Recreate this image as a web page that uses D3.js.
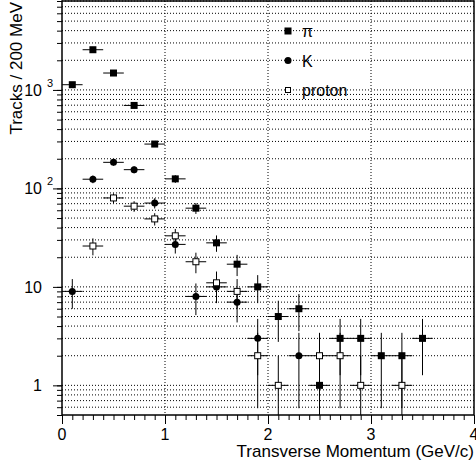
<!DOCTYPE html>
<html>
<head>
<meta charset="utf-8">
<script src="https://cdn.jsdelivr.net/npm/d3@7"></script>
<style>
  body { margin: 0; background: #fff; }
  text { font-family: "Liberation Sans", Arial, sans-serif; fill: #000; }
</style>
</head>
<body>
<div class="chart"></div>
<script>

// bin centres (200 MeV bins) and counts per species
var binCenters = [0.1, 0.3, 0.5, 0.7, 0.9, 1.1, 1.3, 1.5, 1.7, 1.9, 2.1, 2.3, 2.5, 2.7, 2.9, 3.1, 3.3, 3.5];
var piCounts     = [1130, 2560, 1485, 696, 282, 125, 63, 28, 17, 10, 5, 6, 1, 3, 3, 2, 2, 3];
var kCounts      = [9, 124, 184, 155, 71, 27, 8, 10, 7, 3, null, 2, null, null, null, null, null, null];
var protonCounts = [null, 26, 80, 66, 49, 33, 18, 11, 9, 2, 1, null, 2, 2, 1, null, 1, null];
var binHalfWidth = 0.1;

var xDomain = [0, 4];
var yDomain = [0.5, 8000];
var yMajor = [1, 10, 100, 1000];
var xMajor = [0, 1, 2, 3, 4];

var legendLabels = ['π', 'K', 'proton'];

/////////////////////////////////////////////////////////////

var W = 476, H = 463;
var margin = { top: 1, right: 2, bottom: 48, left: 62 };
var width = W - margin.left - margin.right;
var height = H - margin.top - margin.bottom;

var svg = d3.select('.chart')
  .append('svg')
  .attr('width', W)
  .attr('height', H)
  .append('g')
  .attr('transform', 'translate(' + margin.left + ',' + margin.top + ')');

var xScale = d3.scaleLinear().domain(xDomain).range([0, width]);
var yScale = d3.scaleLog().domain(yDomain).range([height, 0]);

// all log ticks inside the range
var yAll = [];
for (var e = -1; e <= 3; e++) {
  for (var k = 1; k <= 9; k++) {
    var v = k * Math.pow(10, e);
    if (v >= yDomain[0] && v <= yDomain[1]) yAll.push(+v.toPrecision(3));
  }
}
var xAll = d3.range(0, 41).map(d => +(d / 10).toFixed(1));

// grid
svg.append('g').selectAll('line.hgrid')
  .data(yAll.filter(d => d > yDomain[0]))
  .enter().append('line')
  .attr('x1', 0).attr('x2', width)
  .attr('y1', d => yScale(d)).attr('y2', d => yScale(d))
  .style('stroke', '#000')
  .style('stroke-width', 1)
  .style('stroke-dasharray', '1,2');

svg.append('g').selectAll('line.vgrid')
  .data([1, 2, 3])
  .enter().append('line')
  .attr('x1', d => xScale(d)).attr('x2', d => xScale(d))
  .attr('y1', 0).attr('y2', height)
  .style('stroke', '#000')
  .style('stroke-width', 1)
  .style('stroke-dasharray', '1,2');

// frame
svg.append('rect')
  .attr('x', 0).attr('y', 0)
  .attr('width', width).attr('height', height)
  .style('fill', 'none')
  .style('stroke', '#000')
  .style('stroke-width', 1.5);

// axes: minor and major ticks, outside
function styleAxis(g) {
  g.select('.domain').remove();
  g.selectAll('.tick line').style('stroke', '#000').style('stroke-width', 1);
}

svg.append('g')
  .attr('transform', 'translate(0,' + height + ')')
  .call(d3.axisBottom(xScale).tickValues(xAll).tickSize(5).tickFormat(''))
  .call(styleAxis);
svg.append('g')
  .attr('transform', 'translate(0,' + height + ')')
  .call(d3.axisBottom(xScale).tickValues(xMajor).tickSize(9).tickFormat(''))
  .call(styleAxis);

svg.append('g')
  .call(d3.axisLeft(yScale).tickValues(yAll).tickSize(5).tickFormat(''))
  .call(styleAxis);
svg.append('g')
  .call(d3.axisLeft(yScale).tickValues(yMajor).tickSize(9).tickFormat(''))
  .call(styleAxis);

// x tick labels
svg.selectAll('.xlab')
  .data(xMajor)
  .enter().append('text')
  .attr('x', d => xScale(d))
  .attr('y', height + 25)
  .style('text-anchor', 'middle')
  .style('font-size', '16px')
  .text(d => d);

// y tick labels, ROOT style 10^n
yMajor.forEach(function (v) {
  var exp = Math.round(Math.log10(v));
  var yy = yScale(v);
  svg.append('text')
    .attr('x', -20)
    .attr('y', yy + 6)
    .style('text-anchor', 'end')
    .style('font-size', '16px')
    .text(exp <= 1 ? String(v) : '10');
  if (exp > 1) {
    svg.append('text')
      .attr('x', -15)
      .attr('y', yy - 3)
      .style('font-size', '11px')
      .text(exp);
  }
});

// axis titles
svg.append('text')
  .attr('x', width)
  .attr('y', height + 42)
  .style('text-anchor', 'end')
  .style('font-size', '17px')
  .text('Transverse Momentum (GeV/c)');

svg.append('text')
  .attr('transform', 'rotate(-90)')
  .attr('x', -1)
  .attr('y', -40)
  .style('text-anchor', 'end')
  .style('font-size', '17px')
  .text('Tracks / 200 MeV');

// data
var clip = svg.append('clipPath').attr('id', 'plotclip')
  .append('rect').attr('width', width).attr('height', height);
var plot = svg.append('g').attr('clip-path', 'url(#plotclip)');

function toPoints(counts) {
  return binCenters.map((x, i) => ({ x: x, n: counts[i] })).filter(d => d.n != null);
}

var series = [
  { label: legendLabels[0], pts: toPoints(piCounts), shape: 'fsquare' },
  { label: legendLabels[1], pts: toPoints(kCounts), shape: 'circle' },
  { label: legendLabels[2], pts: toPoints(protonCounts), shape: 'osquare' }
];

function drawMarker(g, shape, cx, cy, s) {
  if (shape === 'circle') {
    g.append('circle').attr('cx', cx).attr('cy', cy).attr('r', s / 2)
      .style('fill', '#000');
  } else if (shape === 'fsquare') {
    g.append('rect').attr('x', cx - s / 2).attr('y', cy - s / 2)
      .attr('width', s).attr('height', s).style('fill', '#000');
  } else {
    g.append('rect').attr('x', cx - s / 2 + 0.5).attr('y', cy - s / 2 + 0.5)
      .attr('width', s - 1).attr('height', s - 1)
      .style('fill', '#fff').style('stroke', '#000').style('stroke-width', 1);
  }
}

series.forEach(function (s) {
  var g = plot.append('g');
  s.pts.forEach(function (d) {
    var err = Math.sqrt(d.n);
    var lo = d.n - err;
    var yLo = lo > yDomain[0] ? yScale(lo) : height + 5;
    g.append('line')
      .attr('x1', xScale(d.x)).attr('x2', xScale(d.x))
      .attr('y1', yScale(d.n + err)).attr('y2', yLo)
      .style('stroke', '#000').style('stroke-width', 1);
    g.append('line')
      .attr('x1', xScale(d.x - binHalfWidth)).attr('x2', xScale(d.x + binHalfWidth))
      .attr('y1', yScale(d.n)).attr('y2', yScale(d.n))
      .style('stroke', '#000').style('stroke-width', 1);
  });
  s.pts.forEach(function (d) {
    drawMarker(g, s.shape, xScale(d.x), yScale(d.n), 7);
  });
});

// legend
series.forEach(function (s, i) {
  var ly = 30 + i * 29.5;
  var lg = svg.append('g');
  drawMarker(lg, s.shape, 226, ly, s.shape === 'osquare' ? 6 : 7);
  lg.append('text')
    .attr('x', 240)
    .attr('y', ly + 6)
    .style('font-size', '16px')
    .text(s.label);
});

</script>
</body>
</html>
